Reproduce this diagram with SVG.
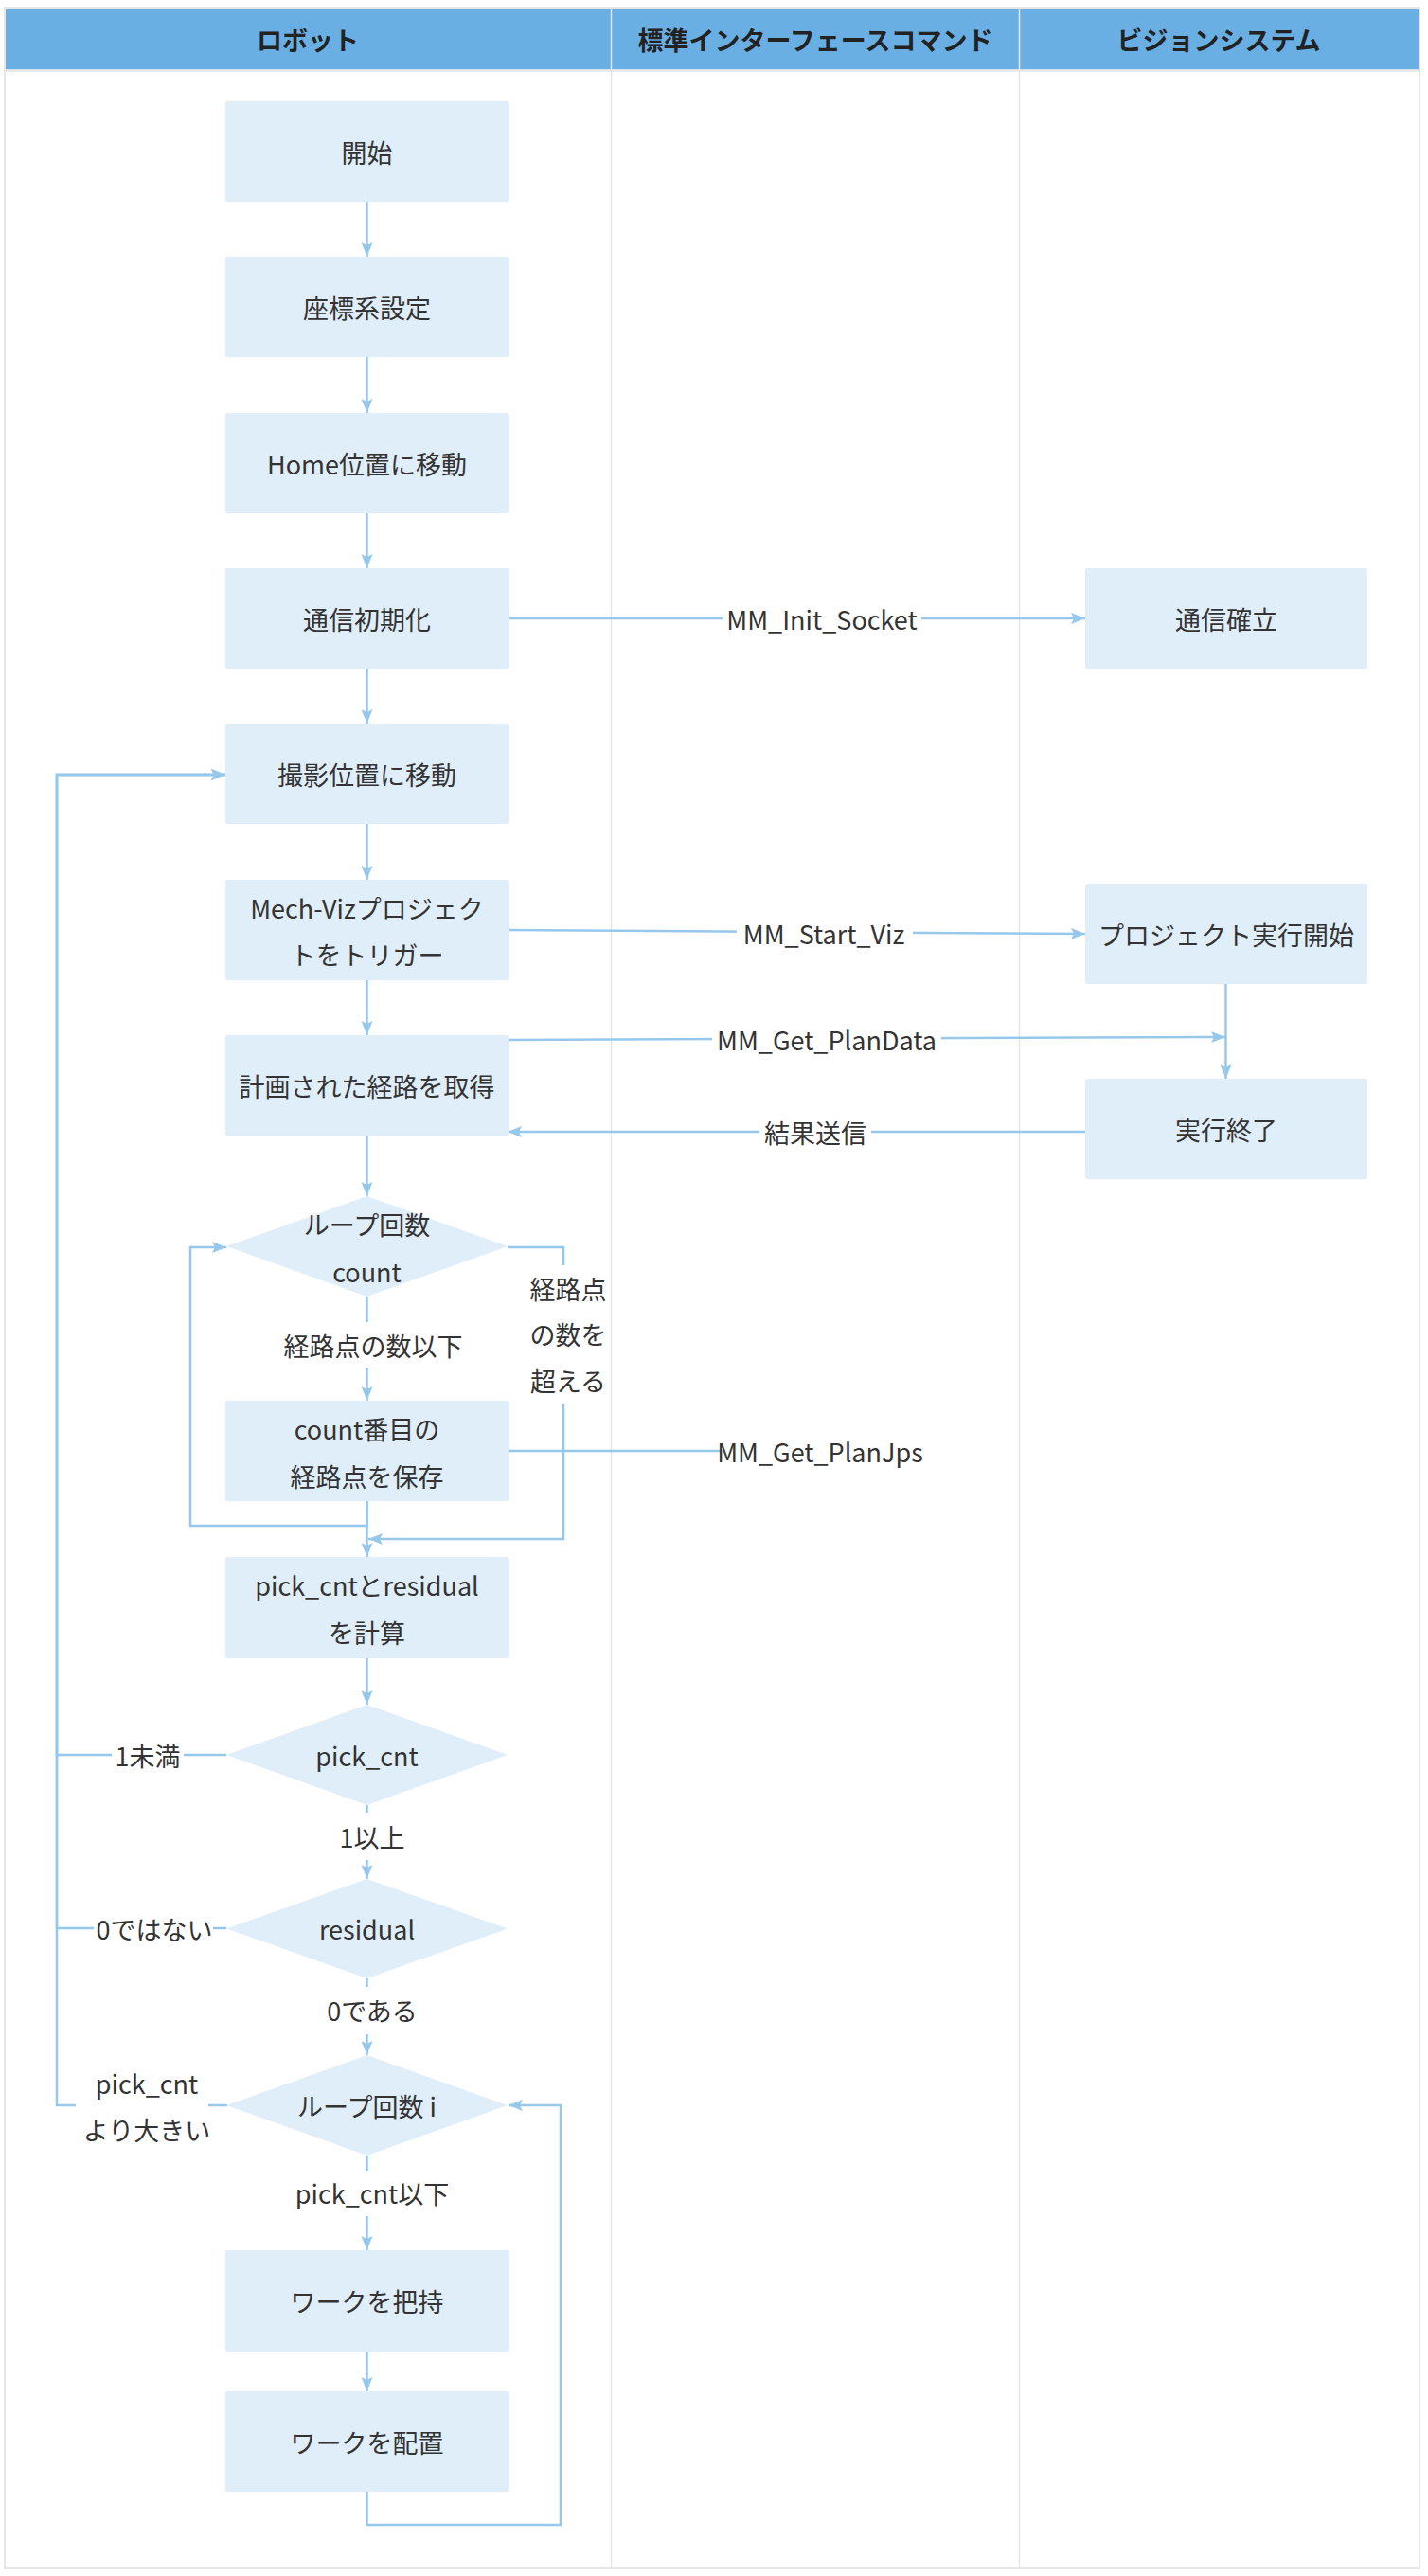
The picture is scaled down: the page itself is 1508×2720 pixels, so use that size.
<svg xmlns="http://www.w3.org/2000/svg" width="1508" height="2720" viewBox="0 0 1508 2720">
<defs>
<marker id="arr" markerUnits="userSpaceOnUse" markerWidth="16" markerHeight="12" refX="15" refY="6" orient="auto">
<path d="M0,0 L15,6 L0,12 L3,6 z" fill="#96C8EC"/>
</marker>
<style>
.box{fill:#E0EEFA;}
.t{font-family:"Noto Sans CJK JP","Noto Sans",sans-serif;font-size:27px;fill:#333333;text-anchor:middle;dominant-baseline:central;}
.h{font-family:"Noto Sans CJK JP","Noto Sans",sans-serif;font-size:27px;font-weight:bold;fill:#222222;text-anchor:middle;dominant-baseline:central;}
.c{fill:none;stroke:#96C8EC;stroke-width:2.5;}
.a{fill:none;stroke:#96C8EC;stroke-width:2.5;marker-end:url(#arr);}
.bg{fill:#FFFFFF;}
.lane{fill:none;stroke:#E6E6E6;stroke-width:2;}
</style>
</defs>
<rect x="0" y="0" width="1508" height="2720" fill="#FFFFFF"/>
<g id="lanes">
<rect x="5" y="8" width="1494" height="2704" class="lane"/>
<rect x="6" y="9.5" width="1492" height="64" fill="#69AFE4"/>
<line x1="5" y1="74.5" x2="1499" y2="74.5" stroke="#E6E6E6" stroke-width="2.5"/>
<line x1="645.5" y1="9" x2="645.5" y2="2712" stroke="#E6E6E6" stroke-width="1.5"/>
<line x1="1076.5" y1="9" x2="1076.5" y2="2712" stroke="#E6E6E6" stroke-width="1.5"/>
<text class="h" x="325" y="41">ロボット</text>
<text class="h" x="861" y="41">標準インターフェースコマンド</text>
<text class="h" x="1287" y="41">ビジョンシステム</text>
</g>
<g id="connectors">
<line class="a" x1="387.5" y1="213" x2="387.5" y2="271"/>
<line class="a" x1="387.5" y1="377" x2="387.5" y2="436"/>
<line class="a" x1="387.5" y1="542" x2="387.5" y2="600"/>
<line class="a" x1="387.5" y1="706" x2="387.5" y2="764"/>
<line class="a" x1="387.5" y1="870" x2="387.5" y2="929"/>
<line class="a" x1="387.5" y1="1035" x2="387.5" y2="1093"/>
<line class="a" x1="387.5" y1="1199" x2="387.5" y2="1263"/>
<line class="a" x1="536" y1="653" x2="1146" y2="653"/>
<line class="a" x1="536" y1="982" x2="1146" y2="986"/>
<line class="a" x1="536" y1="1098" x2="1294" y2="1095"/>
<line class="a" x1="1294.5" y1="1039" x2="1294.5" y2="1139"/>
<line class="a" x1="1146" y1="1195" x2="536" y2="1195"/>
<line class="a" x1="387.5" y1="1369" x2="387.5" y2="1479"/>
<polyline class="a" points="536,1317 595,1317 595,1625 389,1625"/>
<polyline class="a" points="387.5,1585 387.5,1611 201,1611 201,1317 239,1317"/>
<line class="a" x1="387.5" y1="1585" x2="387.5" y2="1644"/>
<line class="c" x1="537" y1="1532" x2="760" y2="1532"/>
<line class="a" x1="387.5" y1="1751" x2="387.5" y2="1800"/>
<line class="a" x1="387.5" y1="1906" x2="387.5" y2="1984"/>
<line class="a" x1="387.5" y1="2089" x2="387.5" y2="2170"/>
<line class="a" x1="387.5" y1="2276" x2="387.5" y2="2376"/>
<line class="a" x1="387.5" y1="2483" x2="387.5" y2="2525"/>
<polyline class="a" points="239,1853 60,1853 60,818 238,818"/>
<polyline class="a" points="239,2036 60,2036 60,818 238,818"/>
<polyline class="a" points="240,2223 60,2223 60,818 238,818"/>
<polyline class="a" points="387.5,2631 387.5,2666 592,2666 592,2223 537,2223"/>
<rect class="bg" x="763" y="636" width="210" height="36"/>
<text class="t" x="868" y="653">MM_Init_Socket</text>
<rect class="bg" x="778" y="966" width="186" height="38"/>
<text class="t" x="870" y="985">MM_Start_Viz</text>
<rect class="bg" x="752" y="1078" width="242" height="38"/>
<text class="t" x="873" y="1097">MM_Get_PlanData</text>
<rect class="bg" x="802" y="1176" width="118" height="38"/>
<text class="t" x="861" y="1195">結果送信</text>
<text class="t" x="866" y="1532">MM_Get_PlanJps</text>
<rect class="bg" x="295" y="1396" width="198" height="48"/>
<text class="t" x="394" y="1420">経路点の数以下</text>
<rect class="bg" x="555" y="1336" width="84" height="146"/>
<text class="t" x="600" y="1360">経路点</text>
<text class="t" x="600" y="1408">の数を</text>
<text class="t" x="600" y="1457">超える</text>
<rect class="bg" x="118" y="1835" width="76" height="36"/>
<text class="t" x="156" y="1853">1未満</text>
<rect class="bg" x="356" y="1914" width="74" height="50"/>
<text class="t" x="393" y="1939">1以上</text>
<rect class="bg" x="99" y="2018" width="126" height="36"/>
<text class="t" x="163" y="2036">0ではない</text>
<rect class="bg" x="340" y="2098" width="106" height="50"/>
<text class="t" x="393" y="2122">0である</text>
<rect class="bg" x="80" y="2178" width="140" height="92"/>
<text class="t" x="155" y="2199">pick_cnt</text>
<text class="t" x="155" y="2248">より大きい</text>
<rect class="bg" x="310" y="2292" width="166" height="48"/>
<text class="t" x="393" y="2315">pick_cnt以下</text>
</g>
<g id="n_start"><rect class="box" x="238" y="107" width="299" height="106" rx="2"/><text class="t" x="387.5" y="160">開始</text></g>
<g id="n_coord"><rect class="box" x="238" y="271" width="299" height="106" rx="2"/><text class="t" x="387.5" y="324">座標系設定</text></g>
<g id="n_home"><rect class="box" x="238" y="436" width="299" height="106" rx="2"/><text class="t" x="387.5" y="489">Home位置に移動</text></g>
<g id="n_init"><rect class="box" x="238" y="600" width="299" height="106" rx="2"/><text class="t" x="387.5" y="653">通信初期化</text></g>
<g id="n_conn"><rect class="box" x="1146" y="600" width="298" height="106" rx="2"/><text class="t" x="1295" y="653">通信確立</text></g>
<g id="n_shoot"><rect class="box" x="238" y="764" width="299" height="106" rx="2"/><text class="t" x="387.5" y="817">撮影位置に移動</text></g>
<g id="n_trigger"><rect class="box" x="238" y="929" width="299" height="106" rx="2"/><text class="t" x="387.5" y="958">Mech-Vizプロジェク</text><text class="t" x="387.5" y="1007">トをトリガー</text></g>
<g id="n_projstart"><rect class="box" x="1146" y="933" width="298" height="106" rx="2"/><text class="t" x="1295" y="986">プロジェクト実行開始</text></g>
<g id="n_getpath"><rect class="box" x="238" y="1093" width="299" height="106" rx="2"/><text class="t" x="387.5" y="1146">計画された経路を取得</text></g>
<g id="n_end"><rect class="box" x="1146" y="1139" width="298" height="106" rx="2"/><text class="t" x="1295" y="1192">実行終了</text></g>
<g id="n_loopcount"><polygon class="box" points="387.5,1263 536,1316 387.5,1369 239,1316"/><text class="t" x="387.5" y="1292">ループ回数</text><text class="t" x="387.5" y="1342">count</text></g>
<g id="n_save"><rect class="box" x="238" y="1479" width="299" height="106" rx="2"/><text class="t" x="387.5" y="1508">count番目の</text><text class="t" x="387.5" y="1558">経路点を保存</text></g>
<g id="n_calc"><rect class="box" x="238" y="1644" width="299" height="107" rx="2"/><text class="t" x="387.5" y="1673">pick_cntとresidual</text><text class="t" x="387.5" y="1723">を計算</text></g>
<g id="n_pickcnt"><polygon class="box" points="387.5,1800 536,1853 387.5,1906 239,1853"/><text class="t" x="387.5" y="1853">pick_cnt</text></g>
<g id="n_residual"><polygon class="box" points="387.5,1984 536,2036.5 387.5,2089 239,2036.5"/><text class="t" x="387.5" y="2036">residual</text></g>
<g id="n_loopi"><polygon class="box" points="387.5,2170 536,2223 387.5,2276 239,2223"/><text class="t" x="387.5" y="2223">ループ回数 i</text></g>
<g id="n_grip"><rect class="box" x="238" y="2376" width="299" height="107" rx="2"/><text class="t" x="387.5" y="2429">ワークを把持</text></g>
<g id="n_place"><rect class="box" x="238" y="2525" width="299" height="106" rx="2"/><text class="t" x="387.5" y="2578">ワークを配置</text></g>
</svg>
